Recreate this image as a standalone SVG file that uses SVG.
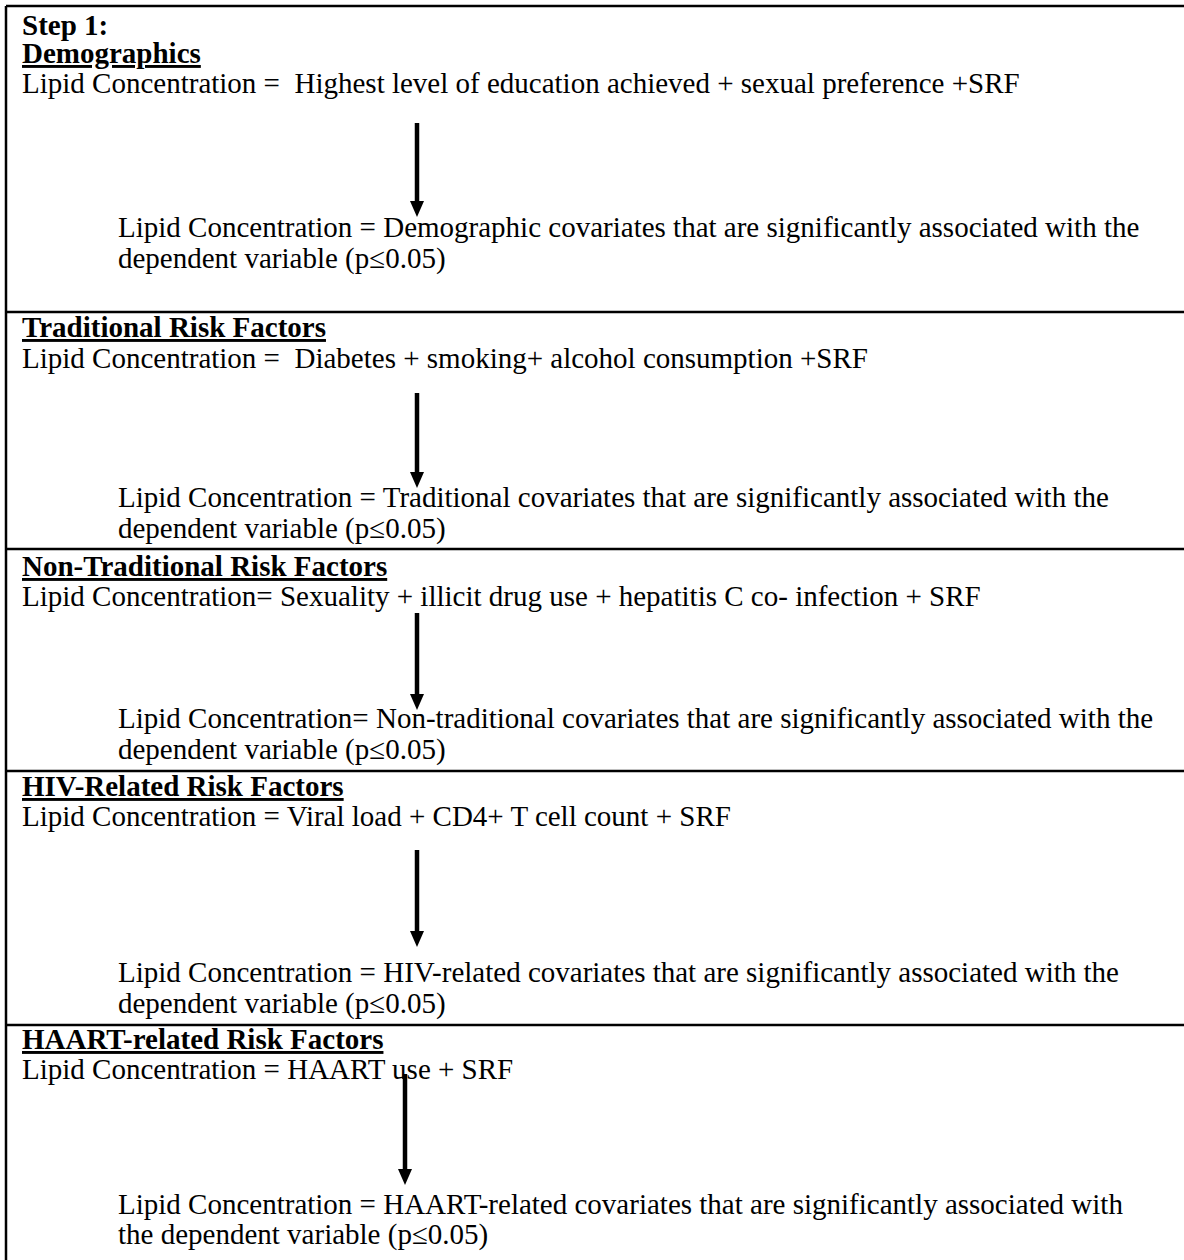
<svg xmlns="http://www.w3.org/2000/svg" width="1184" height="1260" viewBox="0 0 1184 1260">
<style>
  text { font-family: "Liberation Serif", "Times New Roman", serif; font-size: 29px; fill: #000; white-space: pre; }
  .h { font-weight: bold; }
  .u { text-decoration: underline; }
  .rule { stroke: #000; stroke-width: 2.5; fill: none; }
  .arrow { stroke: #000; stroke-width: 4.5; fill: none; marker-end: url(#ah); }
</style>
<defs>
  <marker id="ah" viewBox="0 0 16 14" markerWidth="16" markerHeight="14" refX="6" refY="7" orient="auto" markerUnits="userSpaceOnUse">
    <path d="M0,0 L16,7 L0,14 Z" fill="#000"/>
  </marker>
</defs>
<rect width="1184" height="1260" fill="#fff"/>
<g id="frame">
  <line class="rule" x1="6" y1="6" x2="1184" y2="6"/>
  <line class="rule" x1="6" y1="6" x2="6" y2="1260"/>
  <line class="rule" x1="6" y1="312" x2="1184" y2="312"/>
  <line class="rule" x1="6" y1="549" x2="1184" y2="549"/>
  <line class="rule" x1="6" y1="771" x2="1184" y2="771"/>
  <line class="rule" x1="6" y1="1025" x2="1184" y2="1025"/>
</g>
<g id="demographics">
  <text class="h" x="22" y="35">Step 1:</text>
  <text class="h u" x="22" y="63">Demographics</text>
  <text x="22" y="93">Lipid Concentration =  Highest level of education achieved + sexual preference +SRF</text>
  <text x="118" y="237">Lipid Concentration = Demographic covariates that are significantly associated with the</text>
  <text x="118" y="268">dependent variable (p≤0.05)</text>
</g>
<g id="traditional">
  <text class="h u" x="22" y="337">Traditional Risk Factors</text>
  <text x="22" y="368">Lipid Concentration =  Diabetes + smoking+ alcohol consumption +SRF</text>
  <text x="118" y="507">Lipid Concentration = Traditional covariates that are significantly associated with the</text>
  <text x="118" y="538">dependent variable (p≤0.05)</text>
</g>
<g id="nontraditional">
  <text class="h u" x="22" y="576">Non-Traditional Risk Factors</text>
  <text x="22" y="606">Lipid Concentration= Sexuality + illicit drug use + hepatitis C co- infection + SRF</text>
  <text x="118" y="728">Lipid Concentration= Non-traditional covariates that are significantly associated with the</text>
  <text x="118" y="759">dependent variable (p≤0.05)</text>
</g>
<g id="hiv">
  <text class="h u" x="22" y="796">HIV-Related Risk Factors</text>
  <text x="22" y="826">Lipid Concentration = Viral load + CD4+ T cell count + SRF</text>
  <text x="118" y="982">Lipid Concentration = HIV-related covariates that are significantly associated with the</text>
  <text x="118" y="1013">dependent variable (p≤0.05)</text>
</g>
<g id="haart">
  <text class="h u" x="22" y="1049">HAART-related Risk Factors</text>
  <text x="22" y="1079">Lipid Concentration = HAART use + SRF</text>
  <text x="118" y="1214">Lipid Concentration = HAART-related covariates that are significantly associated with</text>
  <text x="118" y="1244">the dependent variable (p≤0.05)</text>
</g>
<g id="connectors">
  <line class="arrow" x1="417" y1="123" x2="417" y2="207"/>
  <line class="arrow" x1="417" y1="393" x2="417" y2="478"/>
  <line class="arrow" x1="417" y1="613" x2="417" y2="700"/>
  <line class="arrow" x1="417" y1="850" x2="417" y2="937"/>
  <line class="arrow" x1="405" y1="1074" x2="405" y2="1175"/>
</g>
</svg>
